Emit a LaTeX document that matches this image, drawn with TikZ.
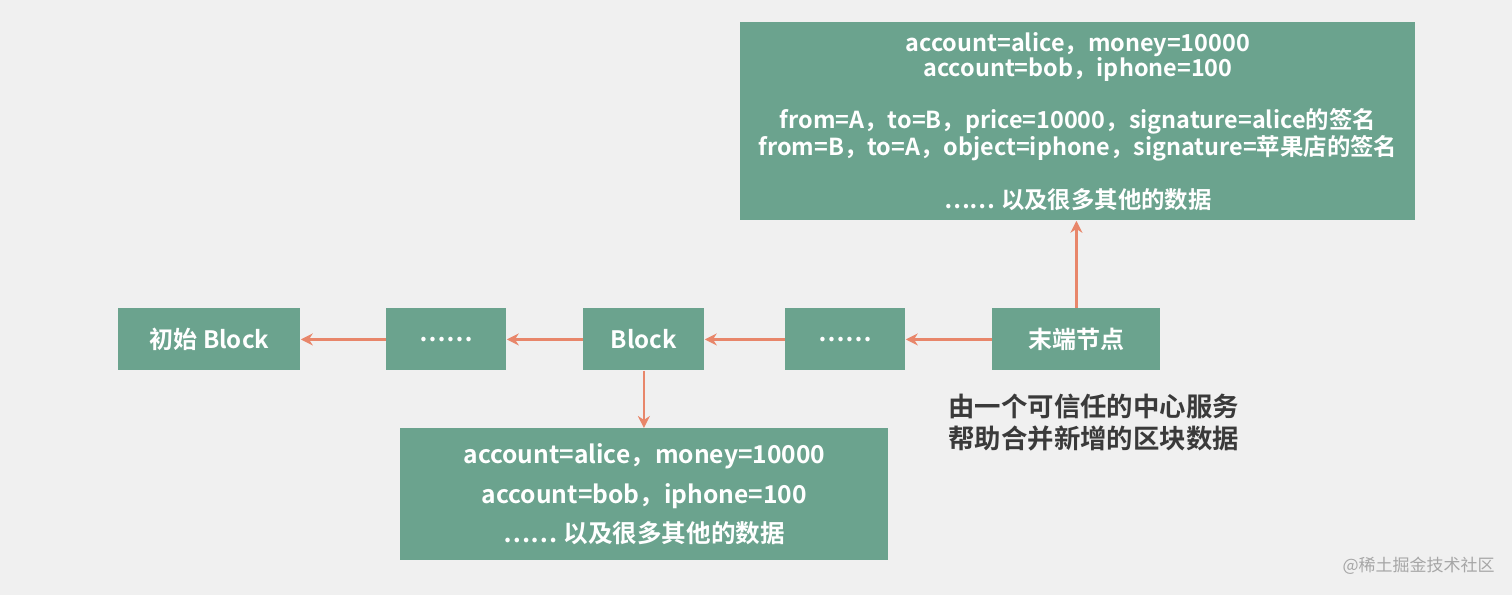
\documentclass[tikz,border=0pt]{standalone}
\usepackage{fontspec}
\setmainfont{Noto Sans CJK SC}[BoldFont={* Bold}]
\usetikzlibrary{arrows.meta}
\definecolor{bg}{HTML}{F0F0F0}
\definecolor{gbox}{HTML}{6BA38E}
\definecolor{arr}{HTML}{E8866A}
\definecolor{dtxt}{HTML}{3A3A3A}
\tikzset{
 blk/.style={fill=gbox,draw=none,text=white,font=\bfseries\fontsize{12}{14}\selectfont,anchor=north west,inner sep=0pt,align=center},
 con/.style={draw=arr,line width=1.3pt,-{Stealth[length=6pt,width=6pt]}}
}
\begin{document}
\begin{tikzpicture}[x=0.5pt,y=-0.5pt]
\fill[bg] (0,0) rectangle (1512,595);
\useasboundingbox (0,0) rectangle (1512,595);
\node[blk,minimum width=337.5pt,minimum height=99pt,font=\bfseries\fontsize{11.7}{12.4}\selectfont] (top) at (740,22) {account=alice，money=10000\\account=bob，iphone=100\\[12.4pt]from=A，to=B，price=10000，signature=alice的签名\\from=B，to=A，object=iphone，signature=苹果店的签名\\[12.4pt]…… 以及很多其他的数据};
\node[blk,minimum width=91pt,minimum height=31pt] (b0) at (118,308) {初始 Block};
\node[blk,minimum width=60pt,minimum height=31pt] (d1) at (386,308) {……};
\node[blk,minimum width=60.5pt,minimum height=31pt] (b1) at (583,308) {Block};
\node[blk,minimum width=60pt,minimum height=31pt] (d2) at (785,308) {……};
\node[blk,minimum width=84pt,minimum height=31pt] (end) at (992,308) {末端节点};
\node[blk,minimum width=244pt,minimum height=66pt,font=\bfseries\fontsize{12.3}{19.7}\selectfont] (bot) at (400,428) {account=alice，money=10000\\account=bob，iphone=100\\…… 以及很多其他的数据};
\draw[con] (end.west) -- (d2.east);
\draw[con] (d2.west) -- (b1.east);
\draw[con] (b1.west) -- (d1.east);
\draw[con] (d1.west) -- (b0.east);
\draw[con] (end.north) -- (top.south -| end.north);
\draw[con] (b1.south) -- (bot.north -| b1.south);
\node[anchor=north west,inner sep=0pt,align=left,text=dtxt,font=\bfseries\fontsize{13.2}{16}\selectfont] (note) at (948,394) {由一个可信任的中心服务\\帮助合并新增的区块数据};
\node[anchor=east,inner sep=0pt,text=gray!70,font=\fontsize{8.5}{10}\selectfont] (wm) at (1495,566) {@稀土掘金技术社区};
\end{tikzpicture}
\end{document}
